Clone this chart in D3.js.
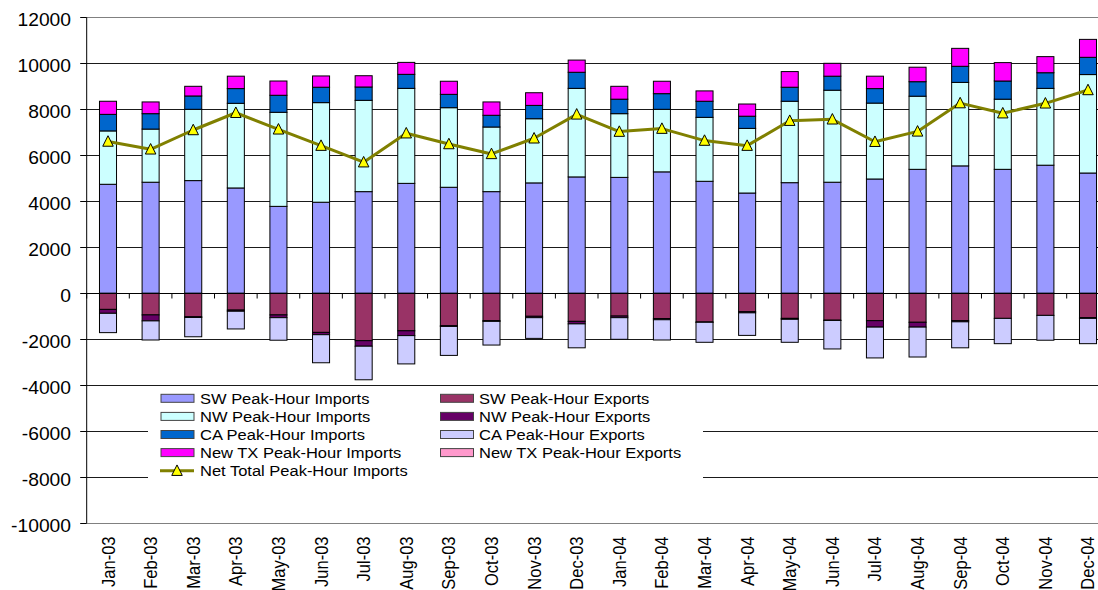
<!DOCTYPE html>
<html>
<head>
<meta charset="utf-8">
<script src="https://cdn.jsdelivr.net/npm/d3@7"></script>
<style>
  body { margin: 0; background: #fff; }
  svg { display: block; font-family: "Liberation Sans", Arial, sans-serif; }
</style>
</head>
<body>
<svg id="chart" width="1098" height="590"></svg>
<script>
// Monthly peak-hour interchange (MW), Jan-03 .. Dec-04
const months = ["Jan-03","Feb-03","Mar-03","Apr-03","May-03","Jun-03","Jul-03","Aug-03","Sep-03","Oct-03","Nov-03","Dec-03",
                "Jan-04","Feb-04","Mar-04","Apr-04","May-04","Jun-04","Jul-04","Aug-04","Sep-04","Oct-04","Nov-04","Dec-04"];

const swImports = [4740,4830,4900,4580,3780,3960,4420,4780,4610,4420,4800,5060,5040,5280,4870,4360,4810,4830,4970,5390,5540,5390,5570,5230];
const nwImports = [2320,2310,3100,3680,4090,4330,3970,4130,3460,2810,2790,3850,2770,2720,2780,2810,3540,4000,3300,3180,3630,3050,3340,4280];
const caImports = [720,670,580,640,740,670,580,610,580,510,580,700,630,680,700,530,610,610,630,630,700,790,680,750];
const txImports = [570,510,420,540,620,490,490,520,570,580,550,530,560,540,450,530,680,560,540,630,780,800,700,780];

const swExports = [-700,-940,-1020,-730,-940,-1700,-2060,-1630,-1410,-1190,-1000,-1220,-990,-1100,-1250,-800,-1090,-1170,-1190,-1260,-1190,-1090,-960,-1060];
const nwExports = [-170,-260,-30,-50,-120,-100,-240,-210,-30,-30,-60,-110,-70,-50,-10,-50,-40,-10,-280,-210,-50,0,0,-30];
const caExports = [-840,-830,-840,-770,-980,-1220,-1460,-1230,-1260,-1030,-900,-1040,-940,-880,-870,-980,-1000,-1240,-1340,-1300,-1130,-1100,-1080,-1100];
const txExports = [0,0,0,0,0,0,0,0,0,0,0,0,0,0,0,0,0,0,0,0,0,0,0,0];

const netImports = [6600,6260,7100,7850,7130,6420,5700,6960,6490,6060,6740,7780,7030,7160,6640,6420,7505,7565,6590,7040,8270,7830,8260,8840];

const yTicks = [-10000,-8000,-6000,-4000,-2000,0,2000,4000,6000,8000,10000,12000];

// Series definitions (order = stacking order)
const series = [
  { key: "swi", name: "SW Peak-Hour Imports",     values: swImports, color: "#9999FF" },
  { key: "nwi", name: "NW Peak-Hour Imports",     values: nwImports, color: "#CCFFFF" },
  { key: "cai", name: "CA Peak-Hour Imports",     values: caImports, color: "#0066CC" },
  { key: "txi", name: "New TX Peak-Hour Imports", values: txImports, color: "#FF00FF" },
  { key: "swe", name: "SW Peak-Hour Exports",     values: swExports, color: "#993366" },
  { key: "nwe", name: "NW Peak-Hour Exports",     values: nwExports, color: "#660066" },
  { key: "cae", name: "CA Peak-Hour Exports",     values: caExports, color: "#CCCCFF" },
  { key: "txe", name: "New TX Peak-Hour Exports", values: txExports, color: "#FF99CC" }
];

const table = months.map((m, i) => {
  const row = { month: m };
  series.forEach(s => row[s.key] = s.values[i]);
  return row;
});

const svg = d3.select("#chart");
const SX = 1.1; // horizontal stretch applied to text

const x = d3.scaleBand().domain(months).range([86.7, 1109.3]).paddingInner(0.6).paddingOuter(0.3);
const step = x.step();
const y = d3.scaleLinear().domain([-10000, 12000]).range([523.3, 17.3]);
const plotLeft = 86.7, plotRight = 1109.3;

// gridlines
svg.append("g").selectAll("line").data(yTicks.filter(v => v !== 0)).join("line")
  .attr("x1", plotLeft).attr("x2", plotRight)
  .attr("y1", d => Math.round(y(d)) + 0.5).attr("y2", d => Math.round(y(d)) + 0.5)
  .attr("stroke", d => (d === 12000 || d === -10000) ? "#808080" : "#1a1a1a")
  .attr("stroke-width", 1);

// stacked bars
const stack = d3.stack().keys(series.map(s => s.key)).offset(d3.stackOffsetDiverging);
const layers = stack(table);

const barG = svg.append("g");
layers.forEach((layer, li) => {
  barG.append("g").selectAll("rect")
    .data(layer.filter(d => d[1] - d[0] !== 0))
    .join("rect")
    .attr("x", d => x(d.data.month))
    .attr("width", x.bandwidth())
    .attr("y", d => y(Math.max(d[0], d[1])))
    .attr("height", d => Math.abs(y(d[0]) - y(d[1])))
    .attr("fill", series[li].color)
    .attr("stroke", "#000")
    .attr("stroke-width", 1);
});

// y axis line + ticks
svg.append("line").attr("x1", plotLeft).attr("x2", plotLeft)
  .attr("y1", y(12000)).attr("y2", y(-10000)).attr("stroke", "#000");
svg.append("g").selectAll("line").data(yTicks).join("line")
  .attr("x1", plotLeft - 6.5).attr("x2", plotLeft)
  .attr("y1", d => Math.round(y(d)) + 0.5).attr("y2", d => Math.round(y(d)) + 0.5)
  .attr("stroke", "#000");

// zero axis with category ticks
const y0 = Math.round(y(0)) + 0.5;
svg.append("line").attr("x1", plotLeft).attr("x2", plotRight)
  .attr("y1", y0).attr("y2", y0).attr("stroke", "#000");
svg.append("g").selectAll("line").data(d3.range(months.length + 1)).join("line")
  .attr("x1", i => plotLeft + i * step).attr("x2", i => plotLeft + i * step)
  .attr("y1", y0).attr("y2", y0 + 5).attr("stroke", "#000");

// y tick labels
svg.append("g").selectAll("text").data(yTicks).join("text")
  .attr("transform", d => `translate(71,${y(d) + 8.3}) scale(${SX},1)`)
  .attr("text-anchor", "end")
  .attr("font-size", 17.5)
  .attr("fill", "#000")
  .text(d => d);

// x tick labels (rotated)
svg.append("g").selectAll("text").data(months).join("text")
  .attr("transform", d => `translate(${x(d) + x.bandwidth() / 2 + 6.5},536.5) scale(${SX},1) rotate(-90)`)
  .attr("text-anchor", "end")
  .attr("font-size", 16.5)
  .attr("fill", "#000")
  .text(d => d);

// net total line + triangle markers
const line = d3.line()
  .x((d, i) => x(months[i]) + x.bandwidth() / 2)
  .y(d => y(d));
svg.append("path").datum(netImports)
  .attr("d", line).attr("fill", "none")
  .attr("stroke", "#808000").attr("stroke-width", 3).attr("stroke-linejoin", "round");

const tri = (cx, cy, s) => `M${cx},${cy - s * 0.55} L${cx + s / 2},${cy + s * 0.45} L${cx - s / 2},${cy + s * 0.45} Z`;
svg.append("g").selectAll("path").data(netImports).join("path")
  .attr("d", (d, i) => tri(x(months[i]) + x.bandwidth() / 2, y(d), 10.5))
  .attr("fill", "#FFFF00").attr("stroke", "#000").attr("stroke-width", 1);

// legend
const lg = svg.append("g");
lg.append("rect").attr("x", 148).attr("y", 387).attr("width", 555).attr("height", 97).attr("fill", "#fff");

const legendRows = [398.3, 416.4, 434.5, 452.6, 470.7];
const col1 = series.slice(0, 4), col2 = series.slice(4);
function swatchEntry(s, sx, tx, cy) {
  lg.append("rect").attr("x", sx).attr("y", cy - 4).attr("width", 33).attr("height", 8)
    .attr("fill", s.color).attr("stroke", "#444").attr("stroke-width", 1);
  lg.append("text").attr("transform", `translate(${tx},${cy + 5.5}) scale(${SX},1)`)
    .attr("font-size", 15).attr("fill", "#000").text(s.name);
}
col1.forEach((s, i) => swatchEntry(s, 161, 200, legendRows[i]));
col2.forEach((s, i) => swatchEntry(s, 440.5, 479, legendRows[i]));

const ny = legendRows[4];
lg.append("line").attr("x1", 160).attr("x2", 194).attr("y1", ny).attr("y2", ny)
  .attr("stroke", "#808000").attr("stroke-width", 3);
lg.append("path").attr("d", tri(177, ny, 10.5)).attr("fill", "#FFFF00").attr("stroke", "#000");
lg.append("text").attr("transform", `translate(200,${ny + 5.5}) scale(${SX},1)`)
  .attr("font-size", 15).attr("fill", "#000").text("Net Total Peak-Hour Imports");
</script>
</body>
</html>
